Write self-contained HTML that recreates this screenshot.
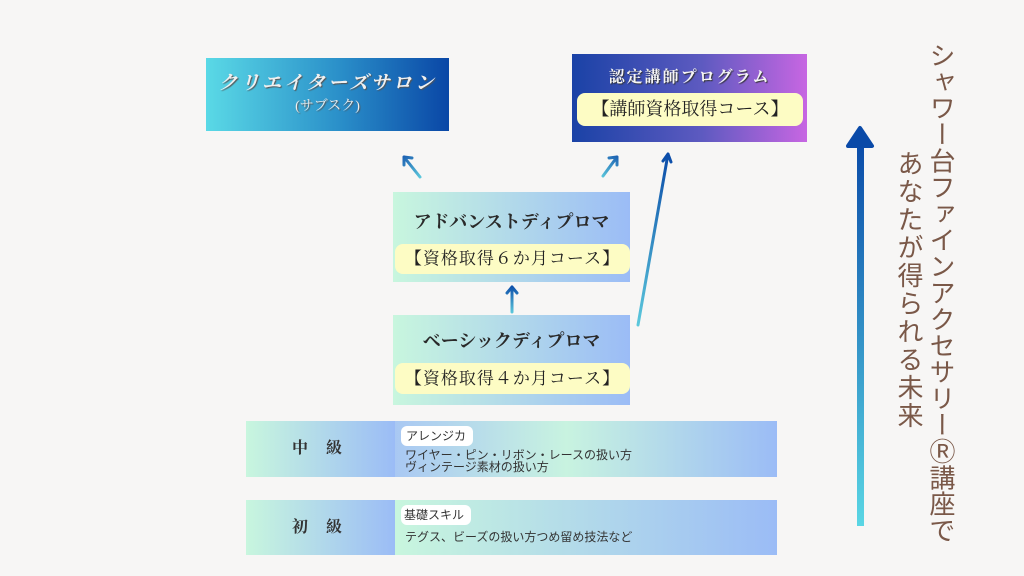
<!DOCTYPE html>
<html><head><meta charset="utf-8"><style>
body{margin:0;width:1024px;height:576px;background:#f7f6f5;position:relative;overflow:hidden;font-family:"Liberation Serif","Noto Serif CJK SC",serif;}
.a{position:absolute;box-sizing:border-box}
.pill{position:absolute;background:#fdfcc4;border-radius:8px;text-align:center;color:#222;}
.t{position:absolute;left:0;right:0;text-align:center;font-weight:bold;color:#2a2a2a}
.v{position:absolute;writing-mode:vertical-rl;color:#7a5848;font-family:"Liberation Sans","Noto Sans CJK JP",sans-serif;font-size:26px;}
</style></head><body>
<div class="a" style="left:206px;top:58px;width:243px;height:73px;background:linear-gradient(90deg,#5ad9e6,#2a8fc9 55%,#0a47a6)">
 <div class="t" style="top:10px;font-size:19px;color:#f0f0f0;letter-spacing:3px;font-style:italic;text-shadow:1px 1px 1px #555">クリエイターズサロン</div>
 <div class="t" style="top:37px;font-size:14px;color:#eee;font-weight:normal;text-shadow:1px 1px 1px #555">(サブスク)</div>
</div>
<div class="a" style="left:572px;top:54px;width:235px;height:88px;background:linear-gradient(90deg,#1a42a6,#5d5ac0 55%,#c766e2)">
 <div class="t" style="top:10px;font-size:16px;color:#f5f5f5;letter-spacing:2px;text-shadow:1px 1px 1px #333">認定講師プログラム</div>
 <div class="pill" style="left:5px;top:39px;width:226px;height:33px;line-height:33px;font-size:18px">【講師資格取得コース】</div>
</div>
<div class="a" style="left:393px;top:192px;width:237px;height:90px;background:linear-gradient(90deg,#c8f6de,#9bbcf6)">
 <div class="t" style="top:16px;font-size:18px">アドバンストディプロマ</div>
 <div class="pill" style="left:2px;top:52px;width:235px;height:30px;line-height:30px;font-size:17px;letter-spacing:1px">【資格取得６か月コース】</div>
</div>
<div class="a" style="left:393px;top:315px;width:237px;height:90px;background:linear-gradient(90deg,#c8f6de,#9bbcf6)">
 <div class="t" style="top:12px;font-size:18px">ベーシックディプロマ</div>
 <div class="pill" style="left:2px;top:48px;width:235px;height:31px;line-height:31px;font-size:17px;letter-spacing:1px">【資格取得４か月コース】</div>
</div>
<div class="a" style="left:246px;top:421px;width:149px;height:56px;background:linear-gradient(90deg,#c8f6de,#9bbcf6);font-weight:bold;font-size:16px;line-height:56px;padding-left:46px;letter-spacing:7px;color:#333">中 級</div>
<div class="a" style="left:395px;top:421px;width:382px;height:56px;background:linear-gradient(90deg,#a9c8f3,#c8f3e0 45%,#9bbcf6)"></div>
<div class="a" style="left:401px;top:426px;width:72px;height:20px;background:#fff;border-radius:6px;font-size:12px;line-height:20px;padding-left:5px;color:#333;font-family:'Liberation Sans','Noto Sans CJK JP',sans-serif">アレンジカ</div>
<div class="a" style="left:405px;top:449px;font-size:12px;line-height:12px;color:#333;font-family:'Liberation Sans','Noto Sans CJK JP',sans-serif">ワイヤー・ピン・リボン・レースの扱い方<br>ヴィンテージ素材の扱い方</div>
<div class="a" style="left:246px;top:500px;width:149px;height:55px;background:linear-gradient(90deg,#c8f6de,#9bbcf6);font-weight:bold;font-size:16px;line-height:55px;padding-left:46px;letter-spacing:7px;color:#333">初 級</div>
<div class="a" style="left:395px;top:500px;width:382px;height:55px;background:linear-gradient(90deg,#c8f6de,#9bbcf6)"></div>
<div class="a" style="left:401px;top:505px;width:70px;height:20px;background:#fff;border-radius:6px;font-size:12px;line-height:20px;padding-left:3px;color:#333;font-family:'Liberation Sans','Noto Sans CJK JP',sans-serif">基礎スキル</div>
<div class="a" style="left:405px;top:528px;font-size:12px;color:#333;font-family:'Liberation Sans','Noto Sans CJK JP',sans-serif">テグス、ビーズの扱い方つめ留め技法など</div>
<svg class="a" style="left:0;top:0" width="1024" height="576">
<defs><linearGradient id="g" x1="0" y1="1" x2="0" y2="0"><stop offset="0" stop-color="#5ad6e4"/><stop offset="1" stop-color="#0a4aa8"/></linearGradient>
<linearGradient id="a1" gradientUnits="userSpaceOnUse" x1="420" y1="178" x2="403" y2="155"><stop offset="0" stop-color="#5cc8dc"/><stop offset="1" stop-color="#1a5cb0"/></linearGradient>
<linearGradient id="a2" gradientUnits="userSpaceOnUse" x1="603" y1="178" x2="618" y2="155"><stop offset="0" stop-color="#5cc8dc"/><stop offset="1" stop-color="#1a5cb0"/></linearGradient>
<linearGradient id="a3" gradientUnits="userSpaceOnUse" x1="512" y1="313" x2="512" y2="285"><stop offset="0" stop-color="#5cc8dc"/><stop offset="1" stop-color="#0a4aa8"/></linearGradient>
<linearGradient id="a4" gradientUnits="userSpaceOnUse" x1="638" y1="325" x2="668" y2="152"><stop offset="0" stop-color="#5cc8dc"/><stop offset="1" stop-color="#0a4aa8"/></linearGradient>
</defs>
<g stroke-width="3" fill="none" stroke-linecap="round">
<path stroke="url(#a1)" d="M420 177 L404 157 M404 157 l0 8 M404 157 l8 1" />
<path stroke="url(#a2)" d="M603 176 L617 157 M617 157 l-8 1 M617 157 l0 8"/>
<path stroke="url(#a3)" d="M512 312 L512 287 M512 287 l-5 6 M512 287 l5 6"/>
<path stroke="url(#a4)" d="M638 325 L668 154 M668 154 l-5 7 M668 154 l3 8"/>
</g>
<rect x="857" y="140" width="7" height="386" fill="url(#g)"/>
<path d="M848 146 L860 128 L872 146 Z" fill="#0a4aa8" stroke="#0a4aa8" stroke-width="4" stroke-linejoin="round"/>
</svg>
<div class="v" style="left:923px;top:42px;letter-spacing:0.4px;font-size:26px">シャワー台ファインアクセサリーⓇ講座で</div>
<div class="v" style="left:891px;top:150px;letter-spacing:2px">あなたが得られる未来</div>
</body></html>
